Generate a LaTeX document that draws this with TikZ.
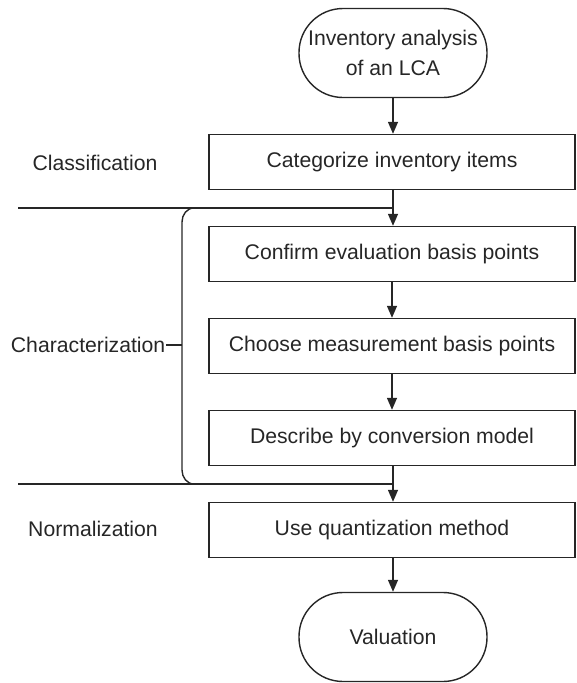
\documentclass[tikz,border=0pt]{standalone}
\usepackage{fontspec}
\setmainfont{Liberation Sans}
\usetikzlibrary{arrows.meta}
\begin{document}
\begin{tikzpicture}[x=1pt,y=-1pt,
  line width=1.4pt, draw={black!85}, text={black!85},
  every node/.style={font=\fontsize{21.2}{30}\selectfont},
  stepbox/.style={draw, minimum width=366pt, minimum height=55pt, inner sep=0pt},
  terminal/.style={draw, rounded corners=44pt, minimum width=188pt, minimum height=89pt, inner sep=0pt, align=center},
  flow/.style={-{Triangle[width=10pt,length=12pt]}},
  label/.style={inner sep=0pt}]
\useasboundingbox (0,0) rectangle (576,683);

% main chain of steps
\node[terminal] (start) at (393,53) {Inventory analysis\\of an LCA};
\node[stepbox] (cat) at (392,162) {Categorize inventory items};
\node[stepbox] (conf) at (392,254) {Confirm evaluation basis points};
\node[stepbox] (meas) at (392,346) {Choose measurement basis points};
\node[stepbox] (desc) at (392,438) {Describe by conversion model};
\node[stepbox] (quant) at (392,530) {Use quantization method};
\node[terminal] (val) at (393,637) {Valuation};

\draw[flow] (start) -- (start |- cat.north);
\draw[flow] (cat.south -| start) -- (start |- conf.north);
\draw[flow] (conf) -- (conf |- meas.north);
\draw[flow] (meas) -- (meas |- desc.north);
\draw[flow] (desc.south -| start) -- (start |- quant.north);
\draw[flow] (quant.south -| start) -- (val);

% stage separators
\coordinate (sepA) at (18,208);
\coordinate (sepB) at (18,484);
\draw (sepA) -- (sepA -| start);
\draw (sepB) -- (sepB -| start);

% bracket grouping the characterization steps
\coordinate (brTop) at (194,208);
\coordinate (brBot) at (194,484);
\coordinate (brMid) at (182,345);
\draw (brTop) to[out=180,in=90] (182,222) -- (182,470) to[out=-90,in=180] (brBot);

% stage labels
\node[label] (cls) at (95,163) {Classification};
\node[label, anchor=east] (chr) at (166,345) {Characterization};
\draw (chr.east) -- (brMid);
\node[label] (nrm) at (93,529) {Normalization};
\end{tikzpicture}
\end{document}
